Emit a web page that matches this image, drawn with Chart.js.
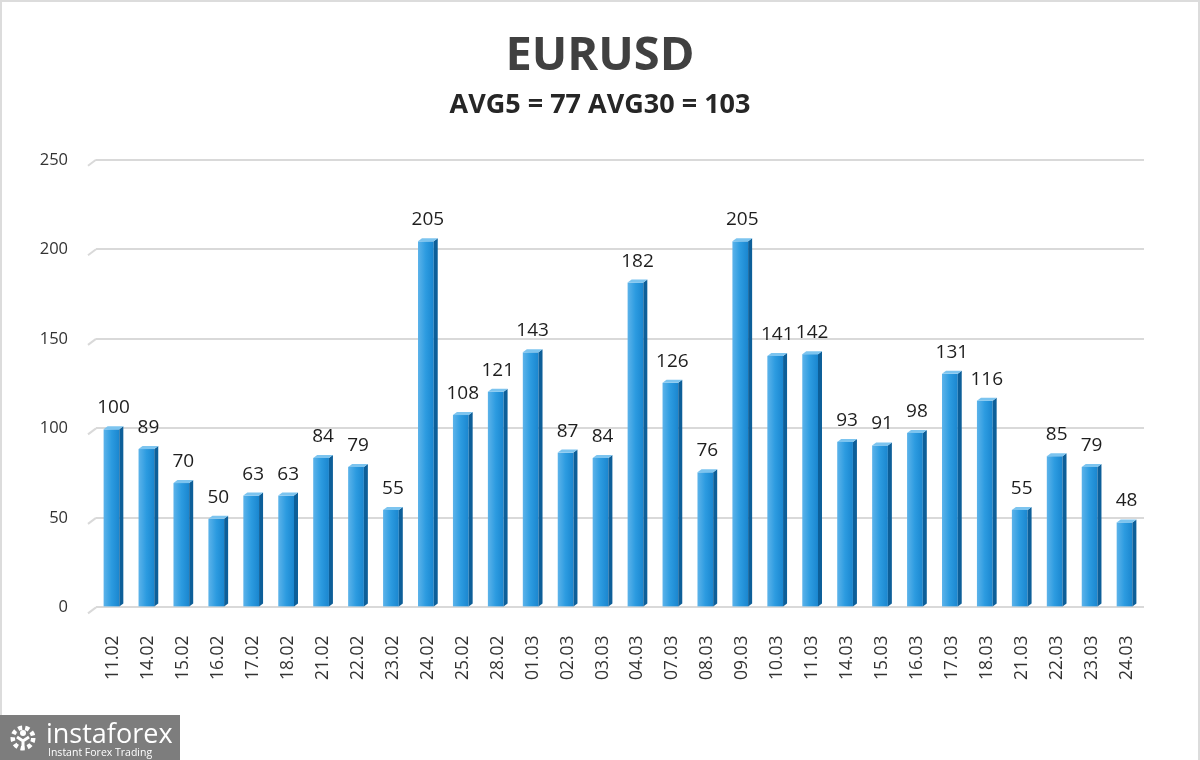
<!DOCTYPE html>
<html>
<head>
<meta charset="utf-8">
<script src="https://cdn.jsdelivr.net/npm/chart.js@4"></script>
<style>
  html, body { margin: 0; padding: 0; background: #fff; }
  #wrap { position: relative; width: 1200px; height: 760px; box-sizing: border-box; border: 2px solid #dcdcdc; border-bottom: none; }
  #chart { position: absolute; left: -2px; top: -2px; }
  #logo { position: absolute; left: -2px; top: 713px; width: 180px; height: 47px; background: #7d7d7d; color: #fff; font-family: "Open Sans", sans-serif; }
  #logo .big { position: absolute; left: 46px; top: 3px; font-size: 27px; line-height: 30px; }
  #logo .small { position: absolute; left: 48px; top: 31px; font-size: 10.5px; line-height: 13px; }
  #logo .gear { position: absolute; left: 8px; top: 8px; width: 30px; height: 30px; }
</style>
</head>
<body>
<div id="wrap">
  <canvas id="chart" width="1200" height="760"></canvas>
  <div id="logo">
    <svg class="gear" viewBox="0 0 30 30">
      <circle cx="15" cy="15" r="10" fill="none" stroke="#fff" stroke-width="5" stroke-dasharray="4 3"/>
      <circle cx="15" cy="15" r="8" fill="#7d7d7d"/>
      <circle cx="15" cy="10" r="3" fill="#fff"/>
      <path d="M9 14 L15 18 L21 14 M15 18 L15 26" stroke="#fff" stroke-width="3" fill="none"/>
    </svg>
    <div class="big">instaforex</div>
    <div class="small">Instant Forex Trading</div>
  </div>
</div>
<script>
const dates = ["11.02","14.02","15.02","16.02","17.02","18.02","21.02","22.02","23.02","24.02",
  "25.02","28.02","01.03","02.03","03.03","04.03","07.03","08.03","09.03","10.03",
  "11.03","14.03","15.03","16.03","17.03","18.03","21.03","22.03","23.03","24.03"];
const ranges = [100,89,70,50,63,63,84,79,55,205,108,121,143,87,84,182,126,76,205,141,142,93,91,98,131,116,55,85,79,48];
const yTicks = [0,50,100,150,200,250];

const FONT = "'Open Sans', 'Segoe UI', sans-serif";

// slanted left ends of the gridlines (fake 3D wall)
const gridSlant = {
    id: "gridSlant",
    beforeDatasetsDraw(chart) {
        const ctx = chart.ctx;
        const y = chart.scales.y;
        const left = chart.chartArea.left;
        ctx.save();
        ctx.strokeStyle = "#d9d9d9";
        ctx.lineWidth = 2;
        yTicks.forEach(v => {
            const py = y.getPixelForValue(v);
            ctx.beginPath();
            ctx.moveTo(left - 8, py + 6);
            ctx.lineTo(left, py);
            ctx.stroke();
        });
        ctx.restore();
    }
};

// fake 3D: shaded front face, dark side, light top
const bar3d = {
    id: "bar3d",
    afterDatasetsDraw(chart) {
        const ctx = chart.ctx;
        const meta = chart.getDatasetMeta(0);
        const depth = 4;
        ctx.save();
        meta.data.forEach((bar, i) => {
            const w = bar.width;
            const left = bar.x - w / 2 - depth / 2;
            const right = left + w;
            const top = bar.y;
            const bottom = bar.base;
            const g = ctx.createLinearGradient(left, 0, right, 0);
            g.addColorStop(0, "#5cb3ea");
            g.addColorStop(0.5, "#2c9be0");
            g.addColorStop(1, "#1a86cf");
            ctx.fillStyle = g;
            ctx.fillRect(left, top + 1, w, bottom - top - 1);
            // side
            ctx.fillStyle = "#0d5f99";
            ctx.beginPath();
            ctx.moveTo(right, top + 1);
            ctx.lineTo(right + depth, top - 2);
            ctx.lineTo(right + depth, bottom - 3);
            ctx.lineTo(right, bottom);
            ctx.closePath();
            ctx.fill();
            // top
            ctx.fillStyle = "#7cc4ef";
            ctx.beginPath();
            ctx.moveTo(left, top + 1);
            ctx.lineTo(left + depth, top - 2);
            ctx.lineTo(right + depth, top - 2);
            ctx.lineTo(right, top + 1);
            ctx.closePath();
            ctx.fill();
            // value label
            ctx.fillStyle = "#1e1e1e";
            ctx.font = "19px " + FONT;
            ctx.textAlign = "center";
            ctx.textBaseline = "alphabetic";
            ctx.fillText(ranges[i], bar.x, top - 15);
        });
        ctx.restore();
    }
};

new Chart(document.getElementById("chart"), {
    type: "bar",
    data: {
        labels: dates,
        datasets: [{
            data: ranges,
            backgroundColor: "rgba(0,0,0,0)",
            barPercentage: 0.45,
            categoryPercentage: 1
        }]
    },
    options: {
        responsive: false,
        animation: false,
        layout: { padding: { top: 28, left: 16, right: 16, bottom: 52 } },
        plugins: {
            legend: { display: false },
            tooltip: { enabled: false },
            title: {
                display: true,
                text: "EURUSD",
                color: "#404040",
                font: { family: FONT, size: 47, weight: "bold" },
                padding: { top: 0, bottom: 5 }
            },
            subtitle: {
                display: true,
                text: "AVG5 = 77 AVG30 = 103",
                color: "#262626",
                font: { family: FONT, size: 27, weight: "bold" },
                padding: { top: 0, bottom: 38 }
            }
        },
        scales: {
            x: {
                grid: { display: false, drawTicks: false },
                border: { display: false },
                ticks: {
                    color: "#333",
                    font: { family: FONT, size: 17.5 },
                    minRotation: 90,
                    maxRotation: 90,
                    padding: 28,
                    autoSkip: false
                }
            },
            y: {
                min: 0,
                max: 250,
                afterBuildTicks: axis => { axis.ticks = yTicks.map(v => ({ value: v })); },
                afterFit: axis => { axis.width = 80; },
                grid: { color: "#d9d9d9", lineWidth: 2, drawTicks: false },
                border: { display: false },
                ticks: {
                    color: "#333",
                    font: { family: FONT, size: 16.5 },
                    padding: 28
                }
            },
            // empty right-hand gutter so the titles stay centred on the page
            yRight: {
                position: "right",
                grid: { display: false, drawTicks: false },
                border: { display: false },
                ticks: { display: false },
                afterFit: axis => { axis.width = 40; }
            }
        }
    },
    plugins: [gridSlant, bar3d]
});
</script>
</body>
</html>
